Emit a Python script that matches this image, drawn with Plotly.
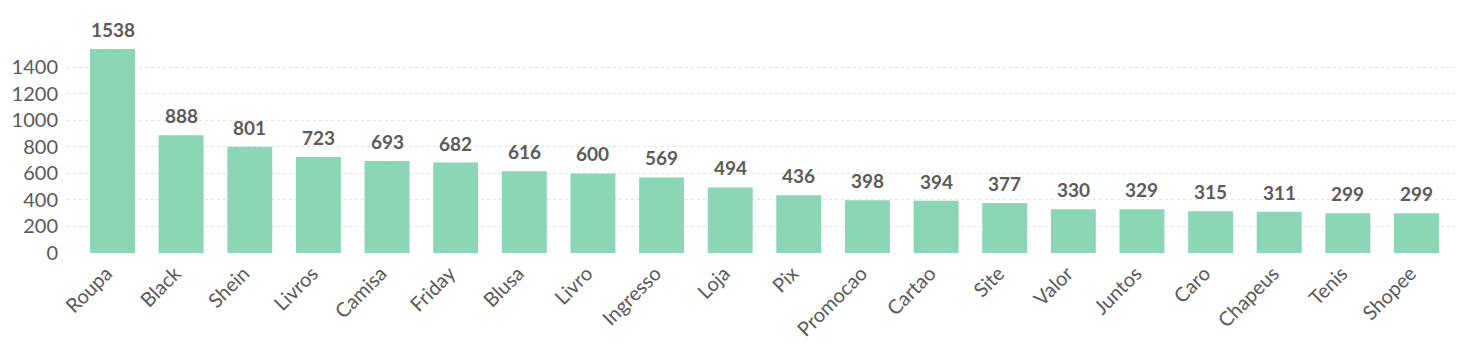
import plotly.graph_objects as go

categories = ["Roupa", "Black", "Shein", "Livros", "Camisa", "Friday", "Blusa", "Livro",
              "Ingresso", "Loja", "Pix", "Promocao", "Cartao", "Site", "Valor", "Juntos",
              "Caro", "Chapeus", "Tenis", "Shopee"]
values = [1538, 888, 801, 723, 693, 682, 616, 600, 569, 494, 436, 398, 394, 377, 330, 329,
          315, 311, 299, 299]

fig = go.Figure()
fig.add_trace(go.Bar(
    x=categories, y=values,
    marker=dict(color="#8BD6B4", line=dict(width=0)),
    hoverinfo="x+y",
))

for c, v in zip(categories, values):
    fig.add_annotation(x=c, y=v, text=f"<b>{v}</b>", showarrow=False,
                       yanchor="bottom", yshift=6,
                       font=dict(family="Lato", size=19, color="#5b5b5b"))

fig.update_layout(
    width=1458, height=346,
    margin=dict(l=67, r=3, t=42, b=93),
    paper_bgcolor="white", plot_bgcolor="white",
    bargap=0.345,
    showlegend=False,
    font=dict(family="Lato", color="#595959"),
    xaxis=dict(
        range=[-0.663, 19.561],
        tickangle=-45,
        tickfont=dict(family="Lato", size=20, color="#595959"),
        showgrid=False, showline=False, zeroline=False, ticks="",
        ticklabelshift=-6, ticklabelstandoff=4,
    ),
    yaxis=dict(
        range=[0, 1590],
        dtick=200, tick0=0,
        tickfont=dict(family="Lato", size=20, color="#595959"),
        showgrid=True, gridcolor="#e3e3e3", gridwidth=1, griddash="dot",
        zeroline=False, showline=False, ticks="",
        ticklabelstandoff=8,
    ),
)

fig.write_html("out.html")
